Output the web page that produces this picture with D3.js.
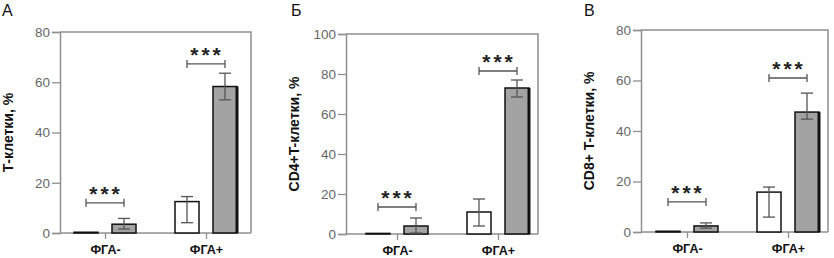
<!DOCTYPE html>
<html>
<head>
<meta charset="utf-8">
<script src="https://cdn.jsdelivr.net/npm/d3@7"></script>
<style>
  body { margin: 0; background: #fff; }
  svg { display: block; font-family: 'Liberation Sans', Arial, sans-serif; }
</style>
</head>
<body>
<div id="chart"></div>
<script>
// data
const categories = ['ФГА-', 'ФГА+']

// panel A: T cells
const tMeanWhite = [0.3, 12.5]
const tLoWhite = [0.3, 4.1]
const tHiWhite = [0.3, 14.5]
const tMeanGray = [3.5, 58.3]
const tLoGray = [1.6, 53]
const tHiGray = [5.8, 63.6]
const tBracket = [12, 67.3]
const tTicks = [0, 20, 40, 60, 80]

// panel Б: CD4+ T cells
const cd4MeanWhite = [0.3, 11]
const cd4LoWhite = [0.3, 4]
const cd4HiWhite = [0.3, 17.5]
const cd4MeanGray = [4, 73]
const cd4LoGray = [0.5, 68.5]
const cd4HiGray = [8, 77]
const cd4Bracket = [13.5, 81.5]
const cd4Ticks = [0, 20, 40, 60, 80, 100]

// panel В: CD8+ T cells
const cd8MeanWhite = [0.3, 15.8]
const cd8LoWhite = [0.3, 5.9]
const cd8HiWhite = [0.3, 17.8]
const cd8MeanGray = [2.4, 47.5]
const cd8LoGray = [1.5, 44.7]
const cd8HiGray = [3.6, 55]
const cd8Bracket = [11.9, 61]
const cd8Ticks = [0, 20, 40, 60, 80]

const panelLetters = ['А', 'Б', 'В']
const yTitles = ['Т-клетки, %', 'CD4+T-клетки, %', 'CD8+ T-клетки, %']
const stars = '***'

const svg = d3.select('#chart').append('svg')
  .attr('width', 834)
  .attr('height', 258)

const axisColor = '#8f8f8f'
const errColor = '#555'

// layout of each panel (pixels)
const panels = [
  { left: 60, top: 32, w: 191, h: 201, xr: [45, 146], ymax: 80, ticks: tTicks, letterX: 2,
    white: [tMeanWhite, tLoWhite, tHiWhite], gray: [tMeanGray, tLoGray, tHiGray], bracket: tBracket },
  { left: 346, top: 34, w: 192, h: 200, xr: [51, 152], ymax: 100, ticks: cd4Ticks, letterX: 291,
    white: [cd4MeanWhite, cd4LoWhite, cd4HiWhite], gray: [cd4MeanGray, cd4LoGray, cd4HiGray], bracket: cd4Bracket },
  { left: 641, top: 30, w: 187, h: 202, xr: [46, 147], ymax: 80, ticks: cd8Ticks, letterX: 584,
    white: [cd8MeanWhite, cd8LoWhite, cd8HiWhite], gray: [cd8MeanGray, cd8LoGray, cd8HiGray], bracket: cd8Bracket }
]

const barW = 24
const off = 19

panels.forEach((p, pi) => {
  const g = svg.append('g').attr('transform', `translate(${p.left}, ${p.top})`)

  const x = d3.scalePoint().domain(categories).range(p.xr)
  const y = d3.scaleLinear().domain([0, p.ymax]).range([p.h, 0])

  // frame (top + right)
  g.append('path')
    .attr('d', `M0,0H${p.w}V${p.h}`)
    .attr('fill', 'none')
    .attr('stroke', axisColor)
    .attr('stroke-width', 1.5)

  const yAxis = g.append('g').call(d3.axisLeft(y).tickValues(p.ticks).tickSize(8).tickPadding(2))
  const xAxis = g.append('g').attr('transform', `translate(0, ${p.h})`)
    .call(d3.axisBottom(x).tickSize(6).tickPadding(6))
  xAxis.select('.domain').attr('d', `M0,0H${p.w}`)
  ;[yAxis, xAxis].forEach(a => {
    a.select('.domain').attr('stroke', axisColor).attr('stroke-width', 1.5)
    a.selectAll('.tick line').attr('stroke', axisColor).attr('stroke-width', 1.3)
  })
  yAxis.selectAll('.tick text')
    .attr('fill', '#666')
    .style('font-size', '13.5px')
  xAxis.selectAll('.tick text')
    .attr('fill', '#111')
    .style('font-size', '12.5px')
    .style('font-weight', 'bold')

  const series = [
    { vals: p.white, dx: -off, fill: '#fff' },
    { vals: p.gray, dx: off, fill: '#a3a3a3' }
  ]

  series.forEach(s => {
    const [mean, lo, hi] = s.vals
    categories.forEach((c, i) => {
      const cx = x(c) + s.dx
      g.append('rect')
        .attr('x', cx - barW / 2)
        .attr('y', y(mean[i]))
        .attr('width', barW)
        .attr('height', y(0) - y(mean[i]))
        .attr('fill', s.fill)
        .attr('stroke', '#111')
        .attr('stroke-width', 1.5)
      if (s.fill !== '#fff' && mean[i] > 5) {
        // darker right edge of the gray bars
        g.append('line')
          .attr('x1', cx + barW / 2).attr('x2', cx + barW / 2)
          .attr('y1', y(mean[i])).attr('y2', y(0))
          .attr('stroke', '#111').attr('stroke-width', 3)
      }
      if (hi[i] - lo[i] > 0.5) {
        const eb = g.append('g').attr('stroke', errColor).attr('stroke-width', 1.3)
        eb.append('line').attr('x1', cx).attr('x2', cx).attr('y1', y(lo[i])).attr('y2', y(hi[i]))
        eb.append('line').attr('x1', cx - 6).attr('x2', cx + 6).attr('y1', y(hi[i])).attr('y2', y(hi[i]))
        eb.append('line').attr('x1', cx - 6).attr('x2', cx + 6).attr('y1', y(lo[i])).attr('y2', y(lo[i]))
      }
    })
  })

  // significance brackets
  categories.forEach((c, i) => {
    const by = y(p.bracket[i])
    const x1 = x(c) - off, x2 = x(c) + off
    g.append('path')
      .attr('d', `M${x1},${by - 4}V${by + 4}M${x1},${by}H${x2}M${x2},${by - 4}V${by + 4}`)
      .attr('fill', 'none')
      .attr('stroke', errColor)
      .attr('stroke-width', 1.3)
    g.append('text')
      .attr('x', x(c) + 1)
      .attr('y', by - 2)
      .attr('text-anchor', 'middle')
      .attr('fill', '#222')
      .style('font-size', '21px')
      .style('font-weight', 'bold')
      .style('letter-spacing', '3px')
      .text(stars)
  })

  // y title
  g.append('text')
    .attr('transform', `translate(${-47}, ${p.h / 2}) rotate(-90)`)
    .attr('text-anchor', 'middle')
    .attr('fill', '#111')
    .style('font-size', '14px')
    .style('font-weight', 'bold')
    .text(yTitles[pi])

  // panel letter
  svg.append('text')
    .attr('x', p.letterX)
    .attr('y', 16)
    .attr('fill', '#111')
    .style('font-size', '16px')
    .text(panelLetters[pi])
})
</script>
</body>
</html>
